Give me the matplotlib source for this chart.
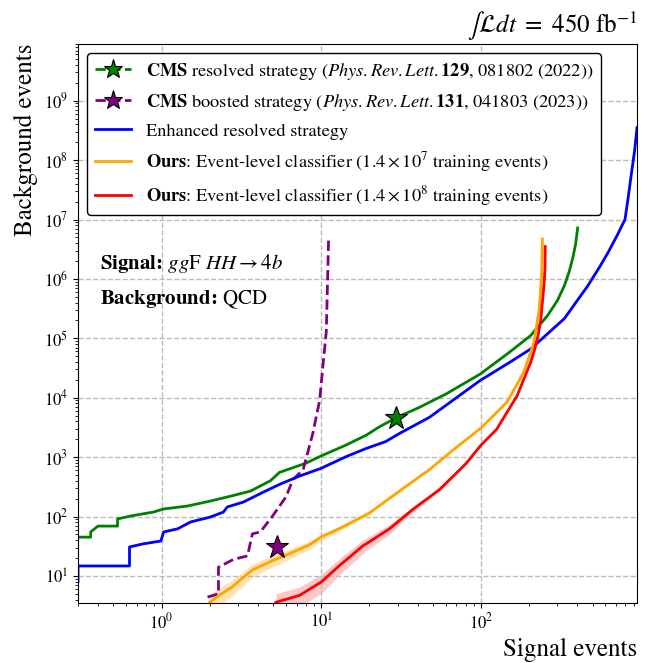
import numpy as np
import matplotlib.pyplot as plt
from matplotlib.lines import Line2D
from matplotlib.ticker import LogLocator, NullFormatter

plt.rcParams['font.family'] = ['STIXGeneral', 'DejaVu Serif']
plt.rcParams['mathtext.fontset'] = 'stix'

# CMS resolved (green)
green_s = [0.30, 0.36, 0.36, 0.40, 0.53, 0.53, 0.64, 0.89, 1.03, 1.45, 2.02, 2.7, 3.6, 4.8, 5.47,
           8.0, 10.0, 14.3, 19.1, 23.1, 29.4, 41.2, 47.6, 60.5, 98.6, 150, 204, 260, 300, 332,
           355, 374, 390, 402]
green_b = [45, 45, 55, 69, 69, 91, 102, 119, 134, 150, 182, 220, 268, 400, 553,
           790, 1050, 1600, 2340, 3240, 4600, 6900, 8400, 11600, 25000, 58000, 1.11e5, 2.4e5, 4.3e5, 7.7e5,
           1.3e6, 2.2e6, 3.8e6, 7.2e6]
green_star = (29.4, 4500)

# CMS boosted (purple)
purple_s = [1.94, 2.27, 2.27, 2.82, 3.45, 3.7, 4.15, 4.9, 6.0, 6.64, 7.7, 8.84, 9.76, 10.2, 10.74, 11.0, 11.1]
purple_b = [4.4, 5.0, 14, 19, 21.7, 51, 55, 98, 213, 417, 620, 2500, 9000, 32000, 1.3e5, 1.7e6, 4.7e6]
purple_star = (5.28, 30.5)

# enhanced resolved (blue)
blue_s = [0.30, 0.30, 0.63, 0.63, 0.76, 0.99, 1.03, 1.26, 1.52, 2.02, 2.44, 2.58, 3.25, 4.34, 5.47,
          7.3, 10, 14.3, 19.1, 25.3, 30.9, 47.6, 98.6, 150, 204, 332, 466, 560, 624, 710, 795,
          830, 863, 915, 945]
blue_b = [8, 14.7, 14.7, 30.7, 34.5, 38.7, 55, 62, 81, 98, 119, 145, 175, 258, 347,
          480, 650, 1020, 1400, 1830, 2510, 4700, 19500, 39000, 66000, 2.15e5, 7.7e5, 1.7e6, 2.8e6, 5.4e6, 1e7,
          2.2e7, 4.8e7, 1.5e8, 3.5e8]

# ours, 1.4e7 training events (orange)
orange_s = [2.0, 2.29, 2.76, 3.68, 4.7, 6.0, 8.36, 10.1, 13.5, 19.9, 30.9, 47.6, 66.6, 100,
            145, 185, 214, 231, 239, 242]
orange_b = [3.6, 4.7, 6.5, 12.5, 17, 22.3, 33, 46, 66, 114, 270, 620, 1310, 3100,
            8400, 27000, 85000, 3.1e5, 1.15e6, 4.7e6]
orange_err = [0.35, 0.32, 0.3, 0.25, 0.22, 0.2, 0.16, 0.12, 0.09, 0.06, 0.04, 0.03, 0.02, 0.01,
              0.0, 0.0, 0.0, 0.0, 0.0, 0.0]

# ours, 1.4e8 training events (red)
red_s = [5.2, 7.3, 10, 13, 18.2, 26.7, 37.4, 55, 80.8, 100, 125, 168, 204, 218, 227, 236, 242, 248, 251, 252]
red_b = [3.6, 4.7, 7.9, 15, 32, 62, 132, 285, 790, 1600, 2930, 10800, 39000, 70000, 1.1e5, 2.0e5, 4.1e5,
         8.5e5, 1.48e6, 3.5e6]
red_err = [0.4, 0.38, 0.35, 0.3, 0.25, 0.18, 0.1, 0.06, 0.04, 0.03, 0.02, 0.01, 0.0, 0.0, 0.0, 0.0, 0.0,
           0.0, 0.0, 0.0]

fig = plt.figure(figsize=(6.47, 6.63), dpi=100)
ax = fig.add_axes([0.1206, 0.0905, 0.8639, 0.8431])

ob = np.array(orange_b)
oe = np.array(orange_err)
ax.fill_between(orange_s, ob * (1 - oe), ob * (1 + oe), color='orange', alpha=0.3, lw=0)
rb = np.array(red_b)
re = np.array(red_err)
ax.fill_between(red_s, rb * (1 - re), rb * (1 + re), color='red', alpha=0.22, lw=0)

ax.plot(green_s, green_b, color='green', lw=2)
ax.plot(purple_s, purple_b, color='purple', lw=2, ls='--')
ax.plot(blue_s, blue_b, color='blue', lw=2)
ax.plot(orange_s, orange_b, color='orange', lw=2)
ax.plot(red_s, red_b, color='red', lw=2)
ax.plot(*green_star, marker='*', ms=17, color='green', mec='black', mew=0.8)
ax.plot(*purple_star, marker='*', ms=17, color='purple', mec='black', mew=0.8)

ax.set_xscale('log')
ax.set_yscale('log')
ax.set_xlim(0.3, 945)
ax.set_ylim(3.5, 9e9)
for axis in (ax.xaxis, ax.yaxis):
    axis.set_minor_locator(LogLocator(base=10, subs=np.arange(2, 10), numticks=100))
    axis.set_minor_formatter(NullFormatter())
ax.grid(True, which='major', ls='--', color='#bbbbbb', lw=1)
ax.tick_params(labelsize=12)

ax.set_xlabel('Signal events', fontsize=18, loc='right')
ax.set_ylabel('Background events', fontsize=18, loc='top')
ax.set_title(r'$\int\mathcal{L}dt\ =\ 450\ \mathrm{fb}^{-1}$', fontsize=18, loc='right', pad=8)

ax.text(0.04, 0.608, r'Signal: $gg\mathrm{F}\ HH \rightarrow 4b$', transform=ax.transAxes,
        fontsize=15, weight='bold', va='center')
ax.text(0.04, 0.542, r'Background: $\mathrm{QCD}$', transform=ax.transAxes,
        fontsize=15, weight='bold', va='center')

handles = [
    Line2D([], [], color='green', ls='--', lw=2, marker='*', ms=14, mec='black', mew=0.8),
    Line2D([], [], color='purple', ls='--', lw=2, marker='*', ms=14, mec='black', mew=0.8),
    Line2D([], [], color='blue', lw=2),
    Line2D([], [], color='orange', lw=2),
    Line2D([], [], color='red', lw=2),
]
labels = [
    r'$\mathbf{CMS}$ resolved strategy ($Phys. Rev. Lett. \mathbf{129}$, 081802 (2022))',
    r'$\mathbf{CMS}$ boosted strategy ($Phys. Rev. Lett. \mathbf{131}$, 041803 (2023))',
    'Enhanced resolved strategy',
    r'$\mathbf{Ours}$: Event-level classifier ($1.4\times10^7$ training events)',
    r'$\mathbf{Ours}$: Event-level classifier ($1.4\times10^8$ training events)',
]
leg = ax.legend(handles, labels, loc='upper left', fontsize=13.2, frameon=True, edgecolor='black',
                fancybox=True, framealpha=1, labelspacing=0.55)
leg.get_frame().set_linewidth(1)

plt.savefig('out.png', dpi=100)
